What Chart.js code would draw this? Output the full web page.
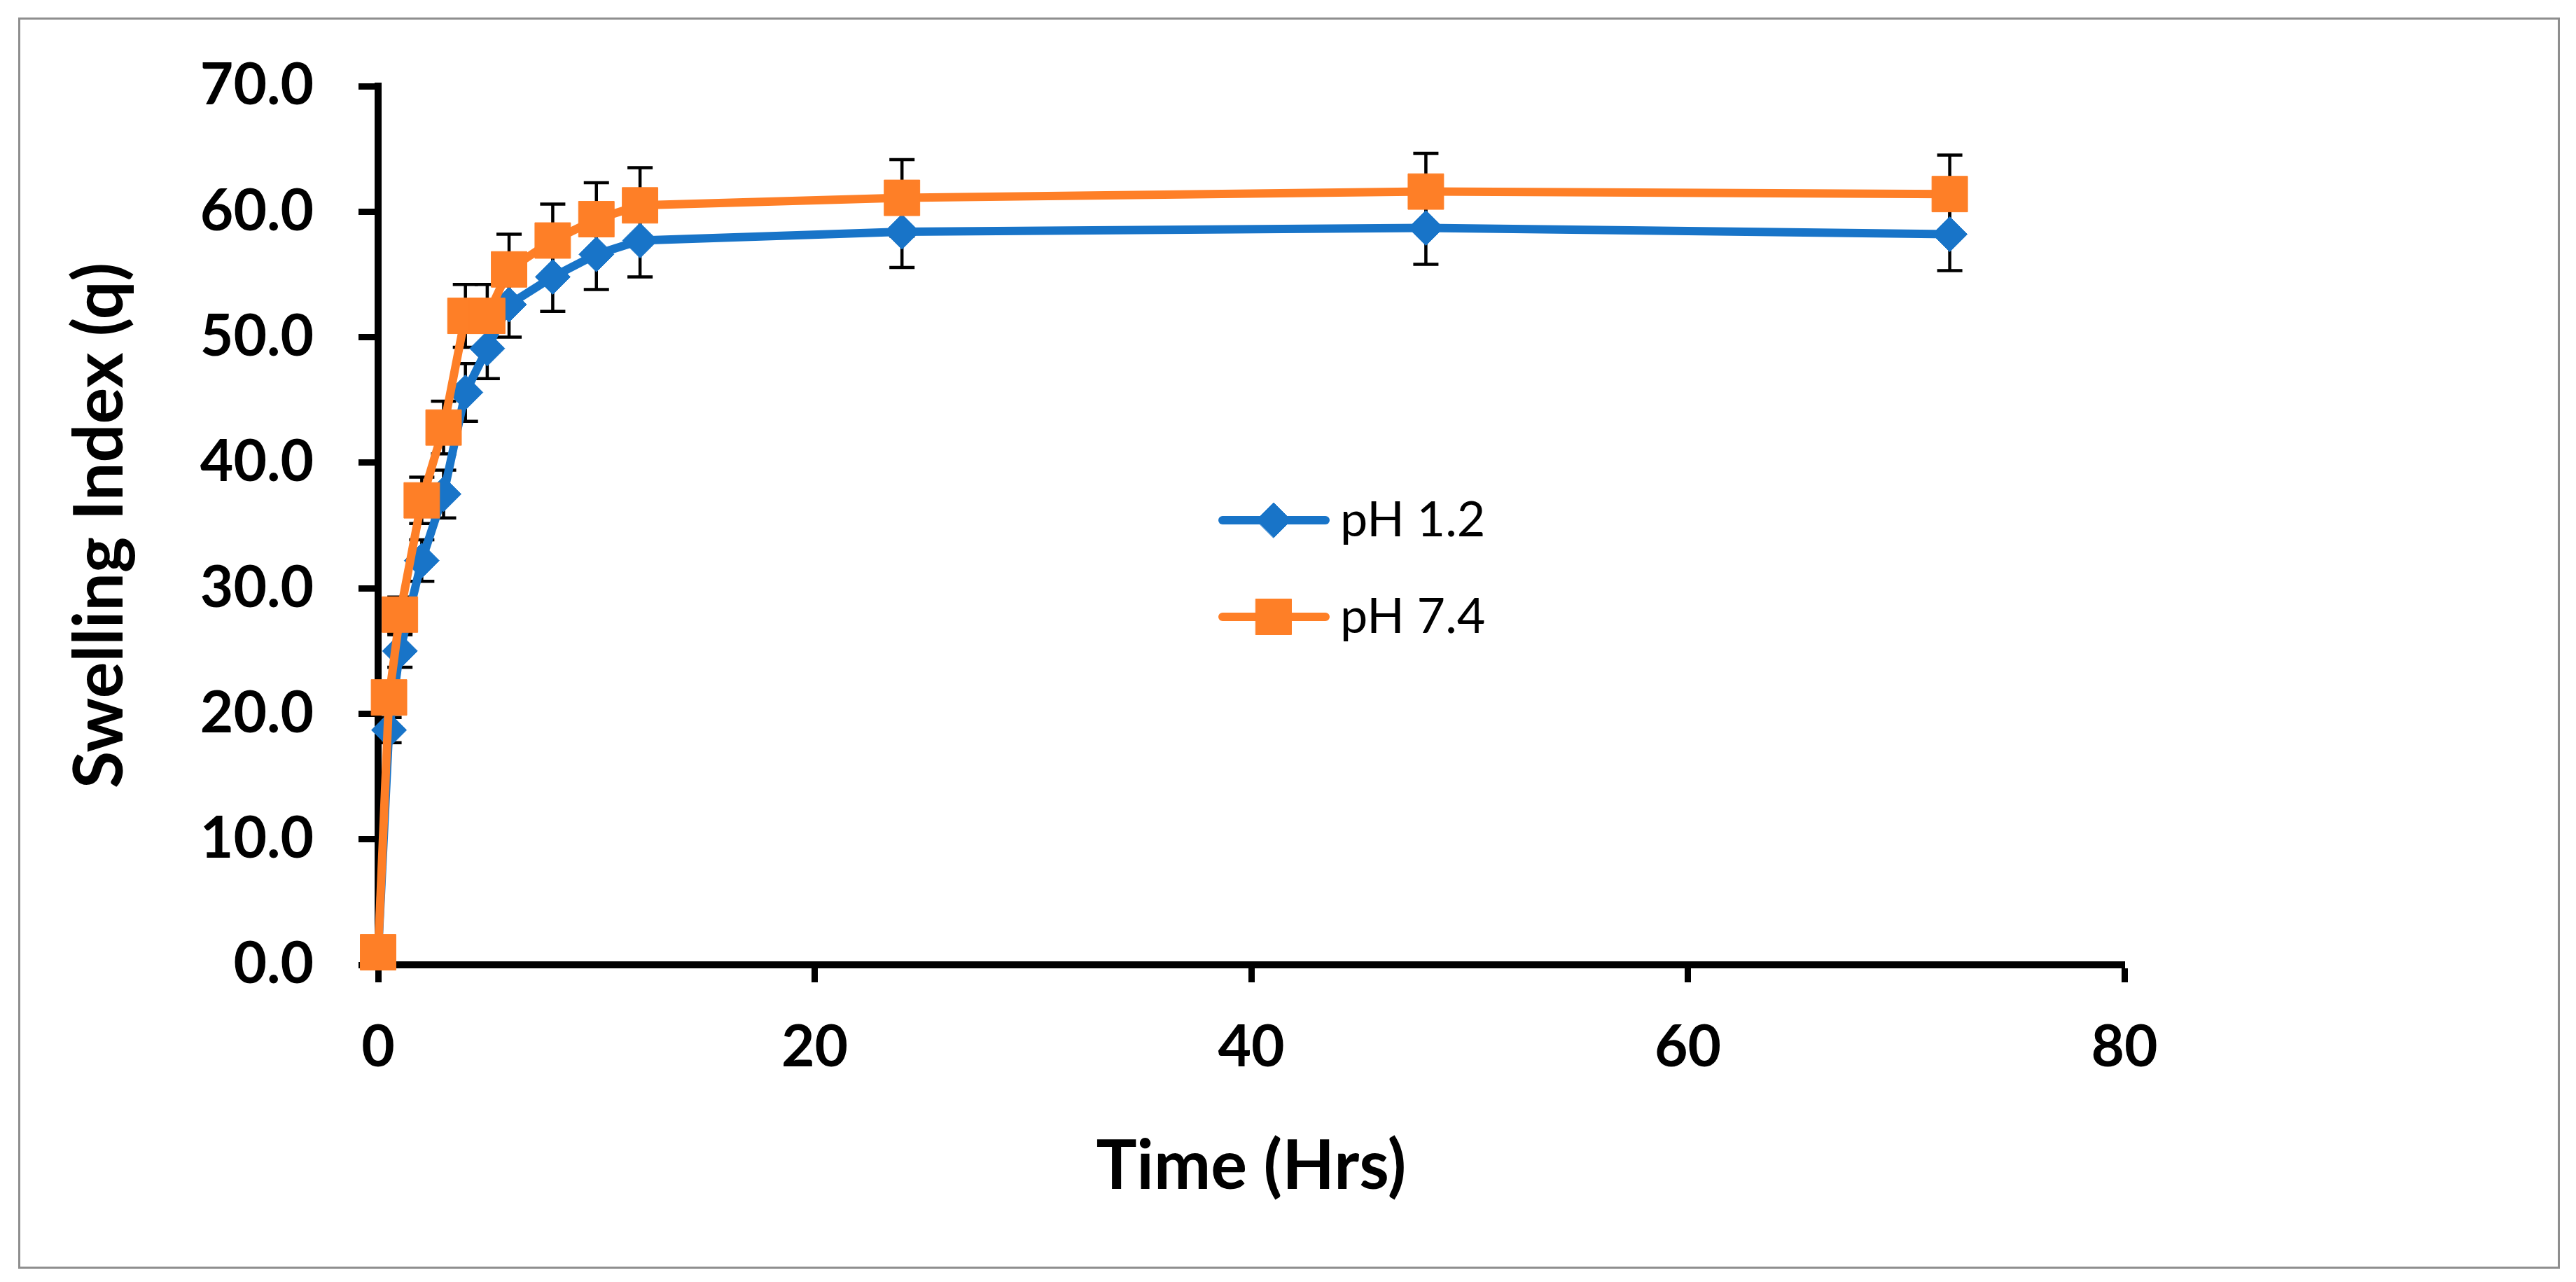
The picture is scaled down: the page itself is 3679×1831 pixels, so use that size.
<!DOCTYPE html>
<html lang="en">
<head>
    <meta charset="UTF-8">
    <title>Swelling Index</title>
    <script src="https://cdn.jsdelivr.net/npm/chart.js"></script>
    <style>
        html, body { margin: 0; padding: 0; background: #ffffff; }
        .frame {
            position: absolute;
            left: 26px; top: 25px;
            width: 3624px; height: 1781px;
            border: 3px solid #8e8e8e;
            pointer-events: none;
        }
        canvas { position: absolute; left: 0; top: 0; }
    </style>
</head>
<body>
    <canvas id="swellChart" width="3679" height="1831"></canvas>
    <div class="frame"></div>

    <script>
        // time points (hours)
        const times = [0, 0.5, 1, 2, 3, 4, 5, 6, 8, 10, 12, 24, 48, 72];

        // pH 1.2 swelling index and error
        const ph12 = [1.0, 18.7, 25.0, 32.2, 37.5, 45.6, 49.1, 52.6, 54.8, 56.6, 57.7, 58.4, 58.7, 58.2];
        const ph12Err = [0.05, 1.0, 1.3, 1.65, 1.9, 2.3, 2.4, 2.6, 2.75, 2.8, 2.9, 2.85, 2.9, 2.9];

        // pH 7.4 swelling index and error
        const ph74 = [1.0, 21.3, 27.9, 37.0, 42.8, 51.7, 51.7, 55.4, 57.7, 59.4, 60.5, 61.1, 61.6, 61.4];
        const ph74Err = [0.05, 1.1, 1.4, 1.85, 2.1, 2.5, 2.5, 2.8, 2.9, 2.9, 3.0, 3.05, 3.05, 3.1];

        const xTicks = [0, 20, 40, 60, 80];
        const yTicks = [0, 10, 20, 30, 40, 50, 60, 70];

        const BLUE = '#1874c8';
        const ORANGE = '#fe7f27';
        const FONT = 'Lato, "Open Sans", sans-serif';

        const toPoints = (ys) => times.map((t, i) => ({ x: t, y: ys[i] }));

        // error bars, drawn under the lines and markers
        const errorBars = {
            id: 'errorBars',
            beforeDatasetsDraw(chart) {
                const { ctx, scales: { x, y } } = chart;
                const sets = [[ph12, ph12Err], [ph74, ph74Err]];
                ctx.save();
                ctx.strokeStyle = '#000';
                ctx.lineWidth = 4.5;
                sets.forEach(([vals, errs]) => {
                    vals.forEach((v, i) => {
                        const px = x.getPixelForValue(times[i]);
                        const top = y.getPixelForValue(v + errs[i]);
                        const bot = y.getPixelForValue(v - errs[i]);
                        ctx.beginPath();
                        ctx.moveTo(px, top); ctx.lineTo(px, bot);
                        ctx.moveTo(px - 18, top); ctx.lineTo(px + 18, top);
                        ctx.moveTo(px - 18, bot); ctx.lineTo(px + 18, bot);
                        ctx.stroke();
                    });
                });
                ctx.restore();
            }
        };

        // legend placed inside the plot like the original
        const insideLegend = {
            id: 'insideLegend',
            afterDraw(chart) {
                const ctx = chart.ctx;
                const rows = [743, 881];
                ctx.save();
                chart.data.datasets.forEach((ds, i) => {
                    const yy = rows[i];
                    ctx.strokeStyle = ds.borderColor;
                    ctx.lineWidth = ds.borderWidth;
                    ctx.lineCap = 'round';
                    ctx.beginPath();
                    ctx.moveTo(1746, yy);
                    ctx.lineTo(1893, yy);
                    ctx.stroke();
                    ctx.fillStyle = ds.pointBackgroundColor;
                    ctx.strokeStyle = ds.pointBackgroundColor;
                    ctx.lineWidth = 1;
                    Chart.helpers.drawPoint(ctx, {
                        pointStyle: ds.pointStyle,
                        radius: ds.pointRadius,
                        borderWidth: 1
                    }, 1819, yy);
                    ctx.fillStyle = '#000';
                    ctx.font = '70px ' + FONT;
                    ctx.textAlign = 'left';
                    ctx.textBaseline = 'middle';
                    ctx.fillText(ds.label, 1914, yy);
                });
                ctx.restore();
            }
        };

        new Chart(document.getElementById('swellChart'), {
            type: 'line',
            data: {
                datasets: [
                    {
                        label: 'pH 1.2',
                        data: toPoints(ph12),
                        borderColor: BLUE,
                        backgroundColor: BLUE,
                        borderWidth: 12,
                        pointStyle: 'rectRot',
                        pointRadius: 25,
                        pointBackgroundColor: BLUE,
                        pointBorderColor: BLUE,
                        pointBorderWidth: 1,
                        tension: 0,
                        clip: false,
                        order: 1
                    },
                    {
                        label: 'pH 7.4',
                        data: toPoints(ph74),
                        borderColor: ORANGE,
                        backgroundColor: ORANGE,
                        borderWidth: 12,
                        pointStyle: 'rect',
                        pointRadius: 36,
                        pointBackgroundColor: ORANGE,
                        pointBorderColor: ORANGE,
                        pointBorderWidth: 1,
                        tension: 0,
                        clip: false,
                        order: 0
                    }
                ]
            },
            options: {
                responsive: false,
                animation: false,
                devicePixelRatio: 1,
                layout: { padding: { left: 0, top: 123, right: 645, bottom: 0 } },
                plugins: {
                    legend: { display: false },
                    tooltip: { enabled: false }
                },
                scales: {
                    x: {
                        type: 'linear',
                        min: 0,
                        max: 80,
                        afterFit: (s) => { s.height = 453; },
                        afterBuildTicks: (s) => { s.ticks = xTicks.map(v => ({ value: v })); },
                        grid: {
                            drawOnChartArea: false,
                            drawTicks: true,
                            tickLength: 25,
                            tickWidth: 9,
                            tickColor: '#000'
                        },
                        border: { display: true, color: '#000', width: 10 },
                        ticks: {
                            color: '#000',
                            padding: 44,
                            font: { family: FONT, size: 82, weight: 'bold' }
                        },
                        title: {
                            display: true,
                            text: 'Time (Hrs)',
                            color: '#000',
                            padding: { top: 0, bottom: 106 },
                            font: { family: FONT, size: 97, weight: 'bold' }
                        }
                    },
                    y: {
                        min: 0,
                        max: 70,
                        afterFit: (s) => { s.width = 540; },
                        afterBuildTicks: (s) => { s.ticks = yTicks.map(v => ({ value: v })); },
                        grid: {
                            drawOnChartArea: false,
                            drawTicks: true,
                            tickLength: 28,
                            tickWidth: 9,
                            tickColor: '#000'
                        },
                        border: { display: true, color: '#000', width: 10 },
                        ticks: {
                            color: '#000',
                            padding: 64,
                            callback: (v) => Number(v).toFixed(1),
                            font: { family: FONT, size: 82, weight: 'bold' }
                        },
                        title: {
                            display: true,
                            text: 'Swelling Index (q)',
                            color: '#000',
                            padding: { top: 86, bottom: 0 },
                            font: { family: FONT, size: 97, weight: 'bold' }
                        }
                    }
                }
            },
            plugins: [errorBars, insideLegend]
        });
    </script>
</body>
</html>
